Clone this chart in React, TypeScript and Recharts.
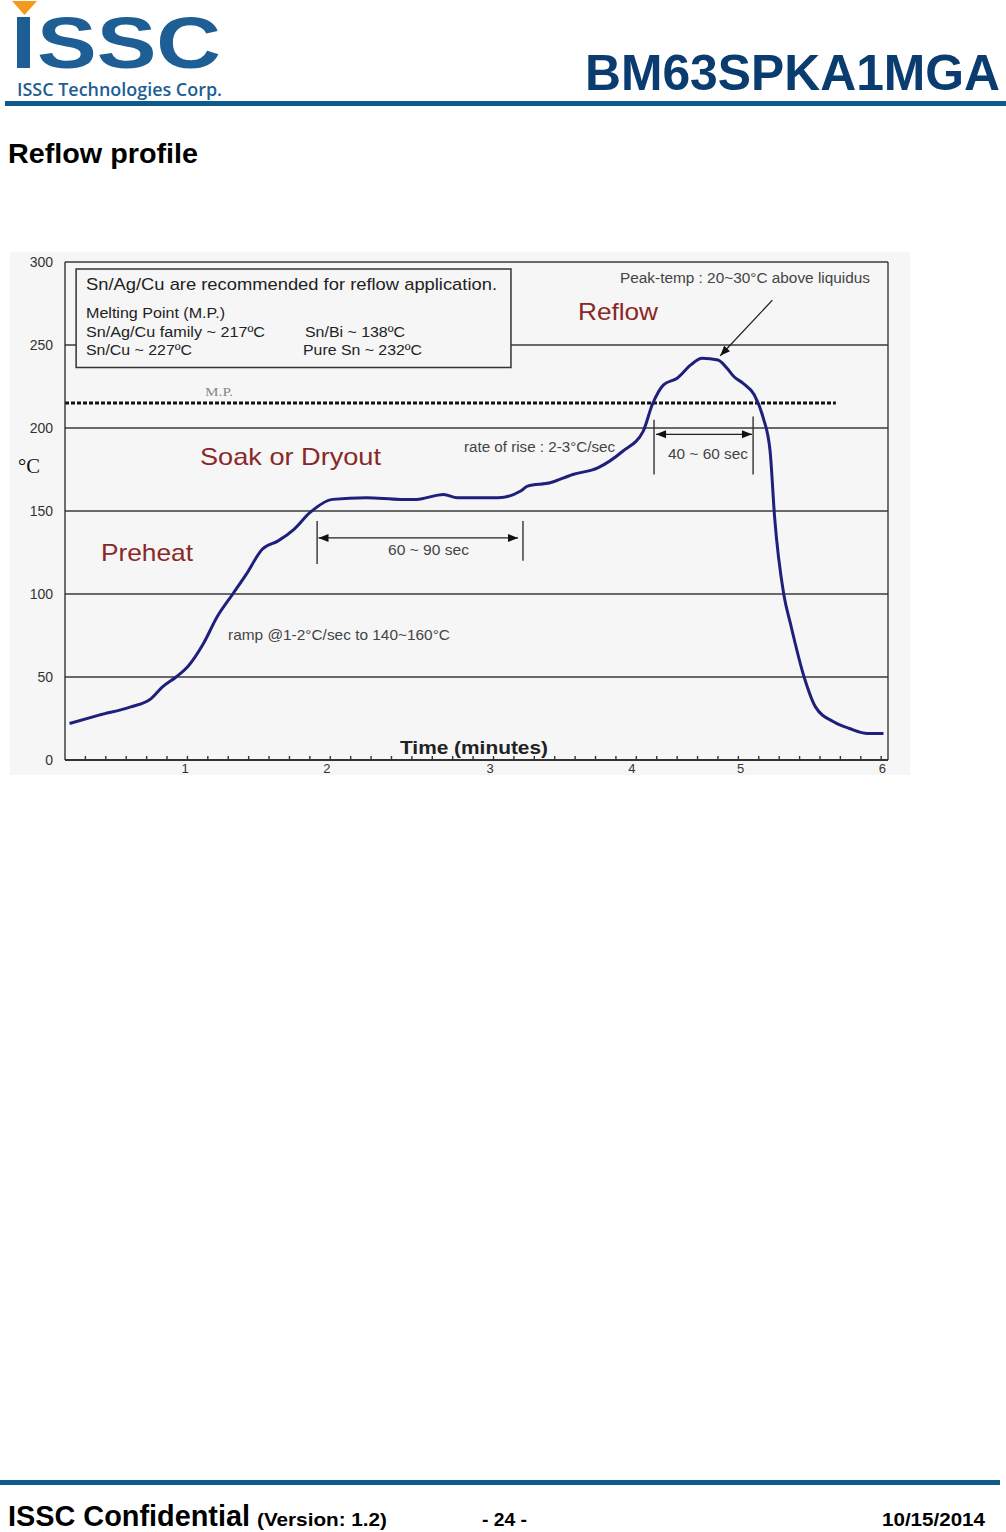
import React from "react";
import {
  CartesianGrid,
  Line,
  LineChart,
  ReferenceArea,
  ReferenceLine,
  XAxis,
  YAxis,
} from "recharts";

// reflow curve (time in seconds, temperature in °C)
const timeSec = [
  2, 15, 29, 38, 43, 49, 54, 61, 67, 74, 80, 87, 94, 101, 108, 118, 133, 148, 155, 167,
  173, 191, 201, 204, 214, 224, 235, 246, 255, 259, 264, 270, 276, 281, 288, 292, 295, 299, 304, 308,
  311, 313, 317, 320, 326, 331, 339, 346, 354, 361,
];
const tempC = [
  22, 27, 32, 37, 44, 50, 56, 70, 86, 100, 112, 127, 132, 139, 149, 157, 158, 157, 157, 160,
  158, 158, 162, 165, 167, 172, 176, 186, 198, 214, 226, 230, 238, 242, 241, 236, 231, 227, 220, 206,
  186, 146, 100, 82, 50, 32, 23, 19, 16, 16,
];

// the printed minute labels sit where the original drawing put them
const majorTickSec = [53, 115.5, 187.5, 250, 298, 360.5];
const majorTickLabels = ["1", "2", "3", "4", "5", "6"];
const minorTickSec = Array.from({ length: 40 }, (_, i) => (i + 1) * 9);
const tempTicks = [0, 50, 100, 150, 200, 250, 300];
const meltingPoint = 215;

const data = timeSec.map((t, i) => ({ t, temp: tempC[i] }));
const allXTicks = [...minorTickSec, ...majorTickSec].sort((a, b) => a - b);

const CURVE = "#1f1f7c";
const INK = "#333";
const RED = "#8a2828";

function arrowShape(startHead: boolean, endHead: boolean) {
  return (p: any) => {
    const { x1, y1, x2, y2 } = p;
    const a = Math.atan2(y2 - y1, x2 - x1);
    const head = (x: number, y: number, ang: number) => {
      const len = 10;
      const w = 4;
      const bx = x - Math.cos(ang) * len;
      const by = y - Math.sin(ang) * len;
      const nx = -Math.sin(ang) * w;
      const ny = Math.cos(ang) * w;
      return `${x},${y} ${bx + nx},${by + ny} ${bx - nx},${by - ny}`;
    };
    return (
      <g>
        <line x1={x1} y1={y1} x2={x2} y2={y2} stroke="#222" strokeWidth={1.3} />
        {startHead && <polygon points={head(x1, y1, a + Math.PI)} fill="#111" />}
        {endHead && <polygon points={head(x2, y2, a)} fill="#111" />}
      </g>
    );
  };
}

const sans = "'Liberation Sans', Arial, sans-serif";

// minor ticks are short marks above the axis, labelled ticks only carry a number
function TimeTick(props: any) {
  const { x, y, payload } = props;
  const idx = majorTickSec.indexOf(payload.value);
  if (idx >= 0) {
    return (
      <text x={x} y={y} dy="0.71em" textAnchor="middle" fill={INK} fontSize={13} fontFamily={sans}>
        {majorTickLabels[idx]}
      </text>
    );
  }
  return <line x1={x} x2={x} y1={y - 4} y2={y - 8} stroke="#333" strokeWidth={1.4} />;
}

function Header() {
  return (
    <svg width={1006} height={180} style={{ position: "absolute", left: 0, top: 0 }}>
      <polygon points="12,1 37,1 24.5,15" fill="#f39a1e" />
      <rect x={17} y={17} width={13} height={51} fill="#1d5e94" />
      <text
        x={37}
        y={68}
        fontFamily={sans}
        fontWeight={700}
        fontSize={72}
        fill="#1d5e94"
        textLength={184}
        lengthAdjust="spacingAndGlyphs"
      >
        SSC
      </text>
      <text
        x={17}
        y={96}
        fontFamily="'Open Sans', sans-serif"
        fontWeight={600}
        fontSize={18}
        fill="#1d5e94"
        textLength={205}
        lengthAdjust="spacingAndGlyphs"
      >
        ISSC Technologies Corp.
      </text>
      <text
        x={585}
        y={90}
        fontFamily={sans}
        fontWeight={700}
        fontSize={50}
        fill="#0a3c6f"
        textLength={415}
        lengthAdjust="spacingAndGlyphs"
      >
        BM63SPKA1MGA
      </text>
      <rect x={5} y={101} width={1001} height={5} fill="#0e5a8a" />
      <text
        x={8}
        y={163}
        fontFamily={sans}
        fontWeight={700}
        fontSize={28}
        fill="#000"
        textLength={190}
        lengthAdjust="spacingAndGlyphs"
      >
        Reflow profile
      </text>
    </svg>
  );
}

function Footer() {
  return (
    <svg width={1006} height={60} style={{ position: "absolute", left: 0, top: 1472 }}>
      <rect x={0} y={8} width={1000} height={5} fill="#0e5a8a" />
      <text x={8} y={54} fontFamily={sans} fontWeight={700} fontSize={29} textLength={242} lengthAdjust="spacingAndGlyphs">
        ISSC Confidential
      </text>
      <text x={257} y={54} fontFamily={sans} fontWeight={700} fontSize={19} textLength={130} lengthAdjust="spacingAndGlyphs">
        (Version: 1.2)
      </text>
      <text x={482} y={54} fontFamily={sans} fontWeight={700} fontSize={18} textLength={45} lengthAdjust="spacingAndGlyphs">
        - 24 -
      </text>
      <text x={882} y={54} fontFamily={sans} fontWeight={700} fontSize={19} textLength={103} lengthAdjust="spacingAndGlyphs">
        10/15/2014
      </text>
    </svg>
  );
}

function T({
  x,
  y,
  w,
  size,
  fill = "#444",
  children,
  weight = 400,
  family = sans,
}: {
  x: number;
  y: number;
  w?: number;
  size: number;
  fill?: string;
  children: React.ReactNode;
  weight?: number;
  family?: string;
}) {
  return (
    <text
      x={x}
      y={y}
      fontSize={size}
      fill={fill}
      fontWeight={weight}
      fontFamily={family}
      textLength={w}
      lengthAdjust={w ? "spacingAndGlyphs" : undefined}
    >
      {children}
    </text>
  );
}

function Annotations() {
  return (
    <svg
      width={1006}
      height={800}
      style={{ position: "absolute", left: 0, top: 0, pointerEvents: "none" }}
    >
      <T x={86} y={290} w={411} size={17} fill="#222">
        Sn/Ag/Cu are recommended for reflow application.
      </T>
      <T x={86} y={318} w={139} size={14} fill="#222">Melting Point (M.P.)</T>
      <T x={86} y={337} w={179} size={14} fill="#222">Sn/Ag/Cu family ~  217ºC</T>
      <T x={305} y={337} w={100} size={14} fill="#222">Sn/Bi ~ 138ºC</T>
      <T x={86} y={355} w={106} size={14} fill="#222">Sn/Cu ~ 227ºC</T>
      <T x={303} y={355} w={119} size={14} fill="#222">Pure Sn ~ 232ºC</T>
      <T x={620} y={283} w={250} size={14}>Peak-temp : 20~30°C above liquidus</T>
      <T x={578} y={320} w={80} size={24} fill={RED}>Reflow</T>
      <T x={200} y={465} w={181} size={24} fill={RED}>Soak or Dryout</T>
      <T x={101} y={561} w={92} size={24} fill={RED}>Preheat</T>
      <T x={464} y={452} w={151} size={14}>rate of rise : 2-3°C/sec</T>
      <T x={668} y={459} w={80} size={15}>40 ~ 60 sec</T>
      <T x={388} y={555} w={81} size={15}>60 ~ 90 sec</T>
      <T x={228} y={640} w={222} size={15}>ramp @1-2°C/sec to 140~160°C</T>
      <T x={400} y={754} w={148} size={18} weight={700} fill="#222">Time (minutes)</T>
      <T x={205} y={396} w={28} size={12} fill="#888" family="'Liberation Serif', serif">M.P.</T>
      <T x={18} y={473} w={22} size={20} fill="#111" family="'Liberation Serif', serif">°C</T>
    </svg>
  );
}

export default function App() {
  return (
    <div
      style={{
        position: "absolute",
        left: 0,
        top: 0,
        width: 1006,
        height: 1532,
        background: "#fff",
        overflow: "hidden",
      }}
    >
      <Header />
      <div
        style={{
          position: "absolute",
          left: 10,
          top: 252,
          width: 900,
          height: 523,
          background: "#f6f6f6",
        }}
      />
      <div style={{ position: "absolute", left: 10, top: 252 }}>
        <LineChart
          width={900}
          height={530}
          data={data}
          margin={{ top: 10, right: 22, bottom: 5, left: 0 }}
        >
          <CartesianGrid vertical={false} stroke="#3a3a3a" strokeWidth={1.4} />
          <XAxis
            type="number"
            dataKey="t"
            domain={[0, 363]}
            ticks={allXTicks}
            tick={<TimeTick />}
            axisLine={{ stroke: "#222", strokeWidth: 1.6 }}
            tickLine={false}
            tickSize={0}
            tickMargin={4}
            height={17}
            interval={0}
            allowDataOverflow
          />
          <YAxis
            type="number"
            domain={[0, 300]}
            ticks={tempTicks}
            width={55}
            tick={{ fill: INK, fontSize: 14, fontFamily: sans }}
            axisLine={{ stroke: "#333", strokeWidth: 1.4 }}
            tickLine={false}
            tickSize={0}
            tickMargin={12}
            interval={0}
          />
          <ReferenceLine x={363} stroke="#3a3a3a" strokeWidth={1.4} />
          <ReferenceArea
            x1={4.9}
            x2={196.7}
            y1={236.4}
            y2={295.8}
            fill="#f6f6f6"
            fillOpacity={1}
            stroke="#333"
            strokeWidth={1.5}
          />
          <ReferenceLine
            segment={[
              { x: 0, y: meltingPoint },
              { x: 340, y: meltingPoint },
            ]}
            stroke="#111"
            strokeWidth={3}
            strokeDasharray="4 2"
          />
          <ReferenceLine segment={[{ x: 111.2, y: 144 }, { x: 111.2, y: 118 }]} stroke="#333" strokeWidth={1.4} />
          <ReferenceLine segment={[{ x: 202, y: 144 }, { x: 202, y: 120 }]} stroke="#333" strokeWidth={1.4} />
          <ReferenceLine segment={[{ x: 259.8, y: 205 }, { x: 259.8, y: 172 }]} stroke="#333" strokeWidth={1.4} />
          <ReferenceLine segment={[{ x: 303.5, y: 207 }, { x: 303.5, y: 172 }]} stroke="#333" strokeWidth={1.4} />
          <ReferenceLine
            segment={[{ x: 111.8, y: 133.8 }, { x: 199.8, y: 133.8 }]}
            shape={arrowShape(true, true)}
          />
          <ReferenceLine
            segment={[{ x: 260.7, y: 196.2 }, { x: 303, y: 196.2 }]}
            shape={arrowShape(true, true)}
          />
          <ReferenceLine
            segment={[{ x: 312, y: 277 }, { x: 289, y: 243.5 }]}
            shape={arrowShape(false, true)}
          />
          <Line
            type="monotone"
            dataKey="temp"
            stroke={CURVE}
            strokeWidth={3}
            dot={false}
            isAnimationActive={false}
          />
        </LineChart>
      </div>
      <Annotations />
      <Footer />
    </div>
  );
}
